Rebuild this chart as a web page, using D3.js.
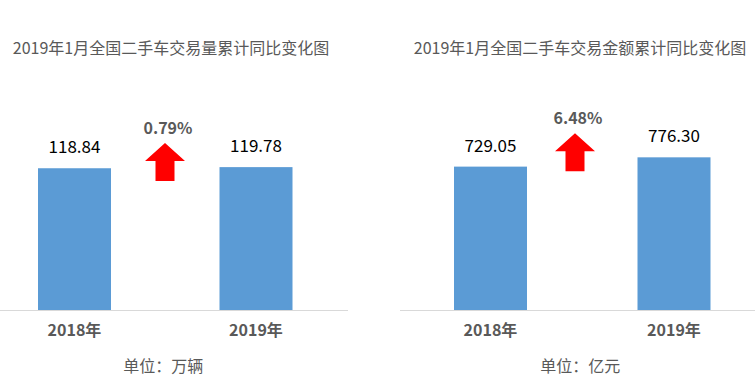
<!DOCTYPE html>
<html>
<head>
<meta charset="utf-8">
<script src="https://d3js.org/d3.v7.min.js"></script>
<style>
body { margin: 0; background: #fff; }
text { font-family: "Noto Sans CJK SC", "Noto Sans", sans-serif; }
</style>
</head>
<body>
<svg id="chart" width="755" height="388"></svg>
<script>
var years = ["2018年", "2019年"];
var volume = [118.84, 119.78];
var amount = [729.05, 776.30];
var titles = ["2019年1月全国二手车交易量累计同比变化图", "2019年1月全国二手车交易金额累计同比变化图"];
var units = ["单位：万辆", "单位：亿元"];
var growth = ["0.79%", "6.48%"];

var svg = d3.select("#chart");
var base = 310;

// one panel per chart
var panels = [
  {x0: 0, axisW: 348, barX: 38, step: 181.5, max: 140, h: 167, vals: volume, title: titles[0], unit: units[0], pct: growth[0], titleX: 171, arrowX: 165},
  {x0: 400, axisW: 355, barX: 54, step: 183.5, max: 900, h: 177, vals: amount, title: titles[1], unit: units[1], pct: growth[1], titleX: 180, arrowX: 175}
];

panels.forEach(function(p) {
  var g = svg.append("g").attr("transform", "translate(" + p.x0 + ",0)");
  var bw = 73;
  var x = d3.scaleBand().domain(years)
    .range([p.barX - (p.step - bw) / 2, p.barX - (p.step - bw) / 2 + p.step * 2])
    .paddingInner(1 - bw / p.step).paddingOuter((1 - bw / p.step) / 2);
  var y = d3.scaleLinear().domain([0, p.max]).range([base, base - p.h]);

  g.append("text").attr("x", p.titleX).attr("y", 54)
    .attr("text-anchor", "middle").attr("fill", "#595959")
    .style("font-size", "16px").text(p.title);

  g.append("line").attr("x1", 0).attr("x2", p.axisW)
    .attr("y1", base + 0.5).attr("y2", base + 0.5)
    .attr("stroke", "#d9d9d9").attr("stroke-width", 1);

  g.selectAll("rect.bar").data(p.vals).enter().append("rect")
    .attr("class", "bar")
    .attr("x", function(d, i) { return x(years[i]); })
    .attr("width", x.bandwidth())
    .attr("y", function(d) { return y(d); })
    .attr("height", function(d) { return base - y(d); })
    .attr("fill", "#5b9bd5");

  g.selectAll("text.val").data(p.vals).enter().append("text")
    .attr("class", "val")
    .attr("x", function(d, i) { return x(years[i]) + x.bandwidth() / 2; })
    .attr("y", function(d) { return y(d) - 15; })
    .attr("text-anchor", "middle").attr("fill", "#000")
    .style("font-size", "17px").text(function(d) { return d.toFixed(2); });

  g.selectAll("text.cat").data(years).enter().append("text")
    .attr("class", "cat")
    .attr("x", function(d) { return x(d) + x.bandwidth() / 2; })
    .attr("y", 336)
    .attr("text-anchor", "middle").attr("fill", "#595959")
    .style("font-size", "16px").style("font-weight", "bold").text(function(d) { return d; });

  g.append("text").attr("x", (x(years[0]) + x(years[1]) + x.bandwidth()) / 2 - 2).attr("y", 372)
    .attr("text-anchor", "middle").attr("fill", "#595959")
    .style("font-size", "16px").text(p.unit);

  // red up arrow between the bars
  var top = y(p.vals[1]) - 24;
  var ax = p.arrowX;
  var pts = [[ax, top], [ax + 20, top + 18], [ax + 9.5, top + 18], [ax + 9.5, top + 38],
             [ax - 9.5, top + 38], [ax - 9.5, top + 18], [ax - 20, top + 18]];
  g.append("path").attr("d", d3.line()(pts) + "Z").attr("fill", "#ff0000");

  g.append("text").attr("x", ax + 3).attr("y", top - 9)
    .attr("text-anchor", "middle").attr("fill", "#595959")
    .style("font-size", "16px").style("font-weight", "bold").text(p.pct);
});
</script>
</body>
</html>
